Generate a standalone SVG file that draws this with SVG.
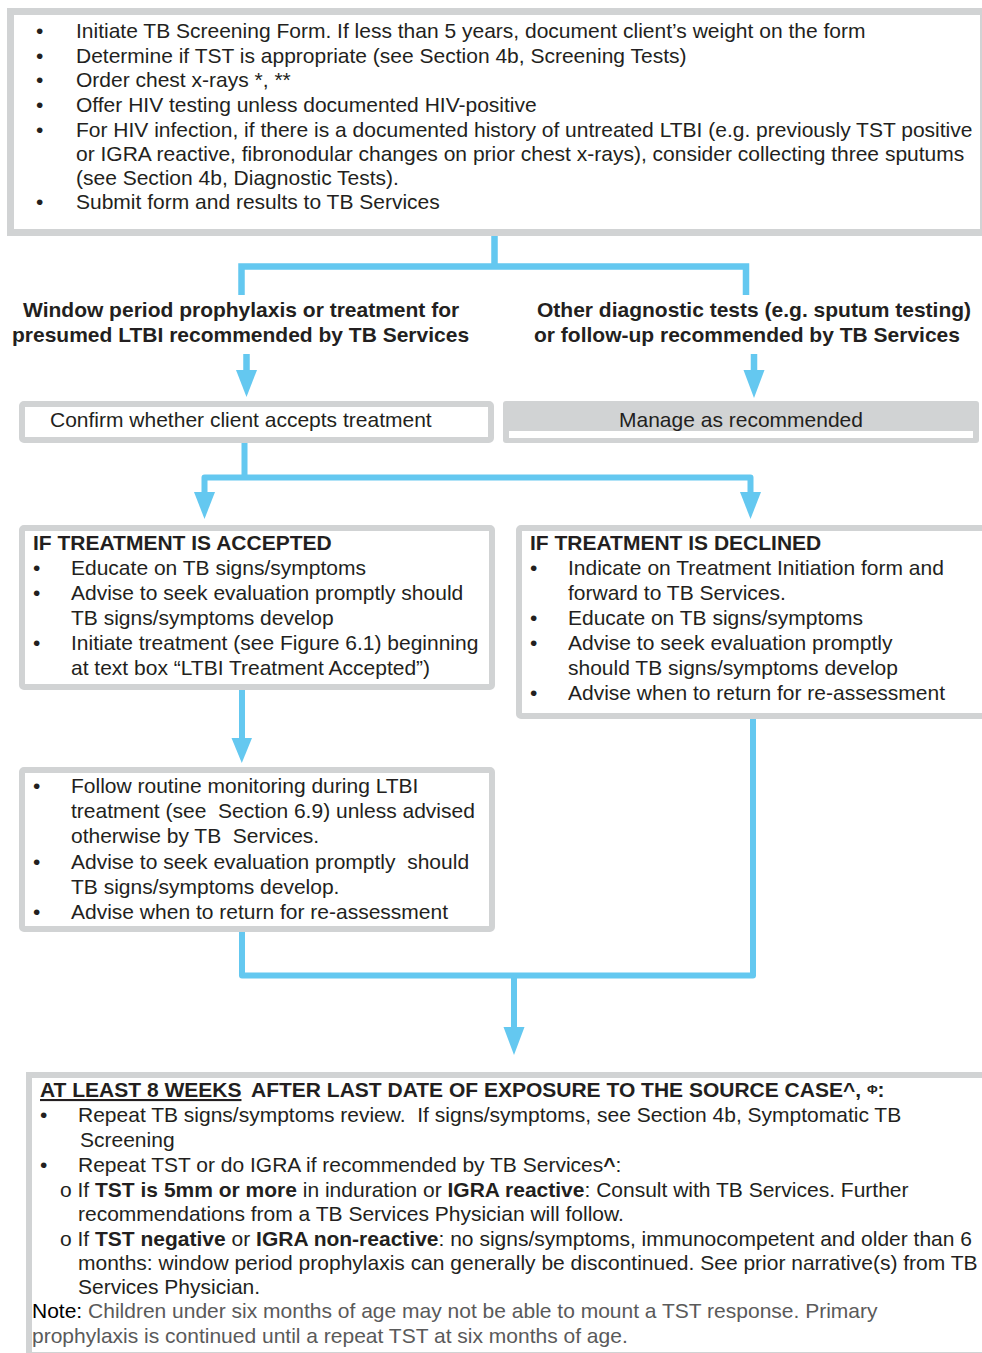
<svg xmlns="http://www.w3.org/2000/svg" width="982" height="1353" viewBox="0 0 982 1353">
<style>
text{font-family:"Liberation Sans",Arial,Helvetica,sans-serif;font-size:21px;fill:#231F20}
.b{font-weight:bold}
.box{fill:#FFFFFF;stroke:#D1D3D4}
.ln{fill:none;stroke:#64C8F0}
.ah{fill:#64C8F0}
.g{fill:#5A5A5A}
</style>
<rect width="982" height="1353" fill="#FFFFFF"/>

<g id="n-screening">
<rect class="box" x="10.5" y="11.5" width="973" height="221" stroke-width="7"/>
<text x="36" y="38">•</text><text x="76" y="38">Initiate TB Screening Form. If less than 5 years, document client’s weight on the form</text>
<text x="36" y="63">•</text><text x="76" y="63">Determine if TST is appropriate (see Section 4b, Screening Tests)</text>
<text x="36" y="87">•</text><text x="76" y="87">Order chest x-rays *, **</text>
<text x="36" y="112">•</text><text x="76" y="112">Offer HIV testing unless documented HIV-positive</text>
<text x="36" y="137">•</text><text x="76" y="137">For HIV infection, if there is a documented history of untreated LTBI (e.g. previously TST positive</text>
<text x="76" y="161">or IGRA reactive, fibronodular changes on prior chest x-rays), consider collecting three sputums</text>
<text x="76" y="185">(see Section 4b, Diagnostic Tests).</text>
<text x="36" y="209">•</text><text x="76" y="209">Submit form and results to TB Services</text>
</g>

<g id="n-window">
<text class="b" x="23" y="317">Window period prophylaxis or treatment for</text>
<text class="b" x="12" y="342">presumed LTBI recommended by TB Services</text>
</g>

<g id="n-other">
<text class="b" x="537" y="317">Other diagnostic tests (e.g. sputum testing)</text>
<text class="b" x="534" y="342">or follow-up recommended by TB Services</text>
</g>

<g id="n-confirm">
<rect class="box" x="22" y="404" width="469" height="36" rx="2" stroke-width="6"/>
<text x="50" y="427">Confirm whether client accepts treatment</text>
</g>

<g id="n-manage">
<rect x="503" y="401" width="476" height="42" rx="3" fill="#D1D3D4"/>
<rect x="509" y="431" width="464" height="7" fill="#FFFFFF"/>
<text x="741" y="427" text-anchor="middle">Manage as recommended</text>
</g>

<g id="n-accepted">
<rect class="box" x="22" y="528" width="470" height="159" rx="2" stroke-width="6"/>
<text class="b" x="33" y="550">IF TREATMENT IS ACCEPTED</text>
<text x="33" y="575">•</text><text x="71" y="575">Educate on TB signs/symptoms</text>
<text x="33" y="600">•</text><text x="71" y="600">Advise to seek evaluation promptly should</text>
<text x="71" y="625">TB signs/symptoms develop</text>
<text x="33" y="650">•</text><text x="71" y="650">Initiate treatment (see Figure 6.1) beginning</text>
<text x="71" y="675">at text box “LTBI Treatment Accepted”)</text>
</g>

<g id="n-declined">
<rect class="box" x="519" y="528" width="480" height="188" rx="2" stroke-width="6"/>
<text class="b" x="530" y="550">IF TREATMENT IS DECLINED</text>
<text x="530" y="575">•</text><text x="568" y="575">Indicate on Treatment Initiation form and</text>
<text x="568" y="600">forward to TB Services.</text>
<text x="530" y="625">•</text><text x="568" y="625">Educate on TB signs/symptoms</text>
<text x="530" y="650">•</text><text x="568" y="650">Advise to seek evaluation promptly</text>
<text x="568" y="675">should TB signs/symptoms develop</text>
<text x="530" y="700">•</text><text x="568" y="700">Advise when to return for re-assessment</text>
</g>

<g id="n-monitoring">
<rect class="box" x="22" y="770" width="470" height="159" rx="2" stroke-width="6"/>
<text x="33" y="793">•</text><text x="71" y="793">Follow routine monitoring during LTBI</text>
<text x="71" y="818" xml:space="preserve" style="white-space:pre">treatment (see  Section 6.9) unless advised</text>
<text x="71" y="843" xml:space="preserve" style="white-space:pre">otherwise by TB  Services.</text>
<text x="33" y="869">•</text><text x="71" y="869" xml:space="preserve" style="white-space:pre">Advise to seek evaluation promptly  should</text>
<text x="71" y="894">TB signs/symptoms develop.</text>
<text x="33" y="919">•</text><text x="71" y="919">Advise when to return for re-assessment</text>
</g>

<g id="n-8weeks">
<rect class="box" x="29" y="1075" width="970" height="280" stroke-width="6"/>
<text class="b" x="40" y="1097"><tspan text-decoration="underline">AT LEAST 8 WEEKS</tspan><tspan x="251">AFTER LAST DATE OF EXPOSURE TO THE SOURCE CASE^, </tspan><tspan font-size="13" dy="-3">Φ</tspan><tspan dy="3">:</tspan></text>
<text x="40" y="1122">•</text><text x="78" y="1122" xml:space="preserve" style="white-space:pre">Repeat TB signs/symptoms review.  If signs/symptoms, see Section 4b, Symptomatic TB</text>
<text x="80" y="1147">Screening</text>
<text x="40" y="1172">•</text><text x="78" y="1172">Repeat TST or do IGRA if recommended by TB Services<tspan class="b">^</tspan>:</text>
<text x="60" y="1197">o If <tspan class="b">TST is 5mm or more</tspan> in induration or <tspan class="b">IGRA reactive</tspan>: Consult with TB Services. Further</text>
<text x="78" y="1221">recommendations from a TB Services Physician will follow.</text>
<text x="60" y="1246">o If <tspan class="b">TST negative</tspan> or <tspan class="b">IGRA non-reactive</tspan>: no signs/symptoms, immunocompetent and older than 6</text>
<text x="78" y="1270">months: window period prophylaxis can generally be discontinued. See prior narrative(s) from TB</text>
<text x="78" y="1294">Services Physician.</text>
<text x="32" y="1318"><tspan fill="#000000">Note:</tspan><tspan class="g"> Children under six months of age may not be able to mount a TST response. Primary</tspan></text>
<text class="g" x="32" y="1343">prophylaxis is continued until a repeat TST at six months of age.</text>
</g>

<g id="connectors">
<path class="ln" d="M494.5 236 V266.5 M241.5 295 V266.5 H746 V295" stroke-width="6.5"/>
<path class="ln" d="M246.5 354 V372 M754 354 V372" stroke-width="6.5"/>
<polygon class="ah" points="236,370 257,370 246.5,397"/>
<polygon class="ah" points="743.5,370 764.5,370 754,398"/>
<path class="ln" d="M244.5 443 V477.5 M204.5 494 V477.5 H750.5 V494" stroke-width="6" stroke-linejoin="round"/>
<polygon class="ah" points="194,492 215,492 204.5,519"/>
<polygon class="ah" points="740,492 761,492 750.5,519"/>
<path class="ln" d="M242 690 V740" stroke-width="6"/>
<polygon class="ah" points="231.5,738 252,738 241.8,763"/>
<path class="ln" d="M242 932 V975.5 H753 V719 M514 975.5 V1029" stroke-width="6" stroke-linejoin="round"/>
<polygon class="ah" points="503.5,1027 524.5,1027 514,1055"/>
</g>
</svg>
